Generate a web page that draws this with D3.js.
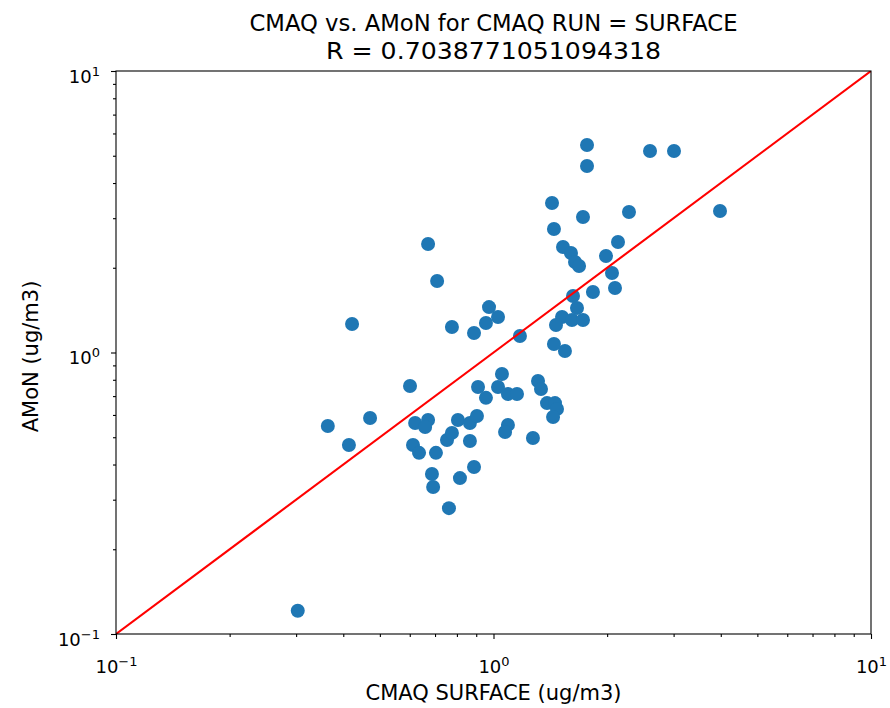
<!DOCTYPE html>
<html lang="en">
<head>
  <meta charset="UTF-8">
  <title>CMAQ vs. AMoN</title>
  <style>
    body { margin: 0; background: #fff; font-family: "DejaVu Sans", sans-serif; }
    svg text { font-family: "DejaVu Sans", sans-serif; fill: #000; }
    .tick line { stroke: #000; stroke-width: 1.1px; }
    .domain { display: none; }
  </style>
</head>
<body>
  <div id="chart"></div>
  <script src="https://d3js.org/d3.v7.min.js"></script>
  <script>
    const cmaq = [
      0.303, 0.364, 0.414, 0.422, 0.471, 0.601, 0.671, 0.709, 0.776, 0.888,
      0.955, 0.973, 1.028, 0.910, 1.053, 1.028, 0.955, 1.092, 1.154, 0.620,
      0.671, 0.659, 0.612, 0.635, 0.704, 0.687, 0.692, 0.762, 0.815, 0.888,
      0.753, 0.776, 0.805, 0.866, 0.904, 0.866, 1.312, 1.336, 1.386, 1.455,
      1.473, 1.438, 1.092, 1.073, 1.272, 1.769, 1.769, 2.598, 3.007, 1.429,
      1.726, 2.285, 3.981, 1.446, 1.528, 1.604, 1.644, 1.685, 2.137, 1.986,
      2.060, 2.098, 1.834, 1.624, 1.664, 1.519, 1.464, 1.614, 1.726, 1.175,
      1.446, 1.546
    ];
    const amon = [
      0.121, 0.548, 0.469, 1.262, 0.585, 0.760, 2.429, 1.795, 1.232, 1.173,
      1.273, 1.450, 1.337, 0.754, 0.839, 0.754, 0.690, 0.712, 0.712, 0.562,
      0.576, 0.544, 0.469, 0.440, 0.440, 0.370, 0.333, 0.280, 0.358, 0.392,
      0.489, 0.518, 0.576, 0.562, 0.595, 0.485, 0.792, 0.742, 0.661, 0.661,
      0.630, 0.590, 0.553, 0.522, 0.497, 5.460, 4.598, 5.197, 5.197, 3.398,
      3.029, 3.156, 3.182, 2.746, 2.370, 2.257, 2.097, 2.029, 2.469, 2.202,
      1.916, 1.695, 1.640, 1.587, 1.439, 1.337, 1.252, 1.305, 1.305, 1.144,
      1.072, 1.012
    ];
    const majorTicks = [0.1, 1, 10];
    const tickExponents = ["\u22121", "0", "1"];
    const minorTicks = [0.2, 0.3, 0.4, 0.5, 0.6, 0.7, 0.8, 0.9, 2, 3, 4, 5, 6, 7, 8, 9];
    const rValue = "0.7038771051094318";

    const width = 890, height = 708;
    const margin = { top: 71, right: 19, bottom: 74, left: 116 };

    const svg = d3.select("#chart").append("svg")
      .attr("width", width)
      .attr("height", height);

    const x = d3.scaleLog().domain([0.1, 10]).range([margin.left, width - margin.right]);
    const y = d3.scaleLog().domain([0.1, 10]).range([height - margin.bottom, margin.top]);

    // clip so the 1:1 line stays inside the axes
    svg.append("clipPath").attr("id", "clip")
      .append("rect")
      .attr("x", margin.left).attr("y", margin.top)
      .attr("width", x.range()[1] - x.range()[0])
      .attr("height", y.range()[0] - y.range()[1]);

    // minor ticks
    svg.append("g")
      .attr("transform", `translate(0,${y.range()[0]})`)
      .call(d3.axisBottom(x).tickValues(minorTicks).tickSize(3).tickFormat(""));
    svg.append("g")
      .attr("transform", `translate(${margin.left},0)`)
      .call(d3.axisLeft(y).tickValues(minorTicks).tickSize(3).tickFormat(""));

    // major ticks with 10^n labels
    const xMajor = svg.append("g")
      .attr("transform", `translate(0,${y.range()[0]})`)
      .call(d3.axisBottom(x).tickValues(majorTicks).tickSize(5).tickFormat(""));
    const yMajor = svg.append("g")
      .attr("transform", `translate(${margin.left},0)`)
      .call(d3.axisLeft(y).tickValues(majorTicks).tickSize(5).tickFormat(""));

    function powerLabel(sel) {
      sel.each(function(d, i) {
        const t = d3.select(this);
        t.text("10").style("font-size", "18px");
        t.append("tspan")
          .attr("dy", "-7")
          .style("font-size", "13px")
          .text(tickExponents[i]);
      });
    }
    xMajor.selectAll(".tick text").call(powerLabel)
      .attr("y", 39).attr("dy", 0);
    yMajor.selectAll(".tick text").call(powerLabel)
      .attr("x", -16).attr("dy", 11);

    // scatter points
    svg.append("g")
      .attr("clip-path", "url(#clip)")
      .selectAll("circle")
      .data(cmaq.map((v, i) => [v, amon[i]]))
      .join("circle")
      .attr("cx", d => x(d[0]))
      .attr("cy", d => y(d[1]))
      .attr("r", 7)
      .attr("fill", "#1f77b4");

    // 1:1 line
    svg.append("line")
      .attr("clip-path", "url(#clip)")
      .attr("x1", x(0.1)).attr("y1", y(0.1))
      .attr("x2", x(10)).attr("y2", y(10))
      .attr("stroke", "#ff0000")
      .attr("stroke-width", 2.1);

    // frame
    svg.append("rect")
      .attr("x", margin.left).attr("y", margin.top)
      .attr("width", x.range()[1] - x.range()[0])
      .attr("height", y.range()[0] - y.range()[1])
      .attr("fill", "none")
      .attr("stroke", "#000")
      .attr("stroke-width", 1.1);

    // titles and axis labels
    const cx = (x.range()[0] + x.range()[1]) / 2;
    svg.append("text")
      .attr("x", cx).attr("y", 31)
      .attr("text-anchor", "middle")
      .attr("textLength", 488)
      .attr("lengthAdjust", "spacingAndGlyphs")
      .style("font-size", "23px")
      .text("CMAQ vs. AMoN for CMAQ RUN = SURFACE");
    svg.append("text")
      .attr("x", cx).attr("y", 59)
      .attr("text-anchor", "middle")
      .attr("textLength", 335)
      .attr("lengthAdjust", "spacingAndGlyphs")
      .style("font-size", "23px")
      .text("R = " + rValue);

    svg.append("text")
      .attr("x", cx).attr("y", 700)
      .attr("text-anchor", "middle")
      .style("font-size", "21px")
      .text("CMAQ SURFACE (ug/m3)");

    const cy = (y.range()[0] + y.range()[1]) / 2;
    svg.append("text")
      .attr("transform", `translate(38,${cy + 4}) rotate(-90)`)
      .attr("text-anchor", "middle")
      .style("font-size", "21px")
      .text("AMoN (ug/m3)");
  </script>
</body>
</html>
